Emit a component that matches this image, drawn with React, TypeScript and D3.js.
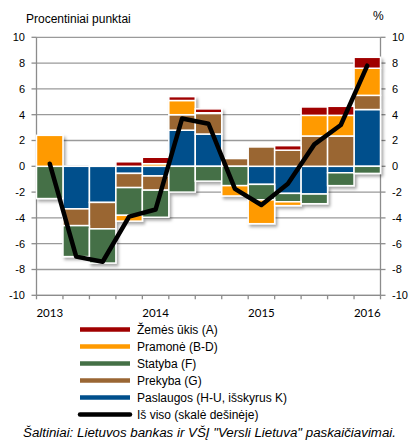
import React from "react";
import * as d3 from "d3";

const quarters = ["2013Q1","2013Q2","2013Q3","2013Q4","2014Q1","2014Q2","2014Q3","2014Q4","2015Q1","2015Q2","2015Q3","2015Q4","2016Q1"];
const xLabels = ["2013","","","","2014","","","","2015","","","","2016"];
const yTicks = [-10,-8,-6,-4,-2,0,2,4,6,8,10];

const paslaugos = [0, -3.3, -2.8, -0.55, -0.75, 2.8, 2.5, 0, -1.4, -2.1, -2.15, -0.5, 4.4];
const prekyba = [0, -1.3, -2.05, -1.1, -1.1, 1.2, 1.6, 0.6, 1.5, 1.25, 2.35, 2.35, 1.1];
const statyba = [-2.5, -2.4, -2.65, -2.15, -2.1, -2.0, -1.15, -1.5, -1.2, -0.65, -0.75, -1.0, -0.55];
const pramone = [2.4, 0, 0, -0.45, 0.2, 1.1, 0.05, -0.8, -1.85, -0.3, 1.6, 1.6, 2.1];
const zemes = [0, 0, 0.1, 0.35, 0.5, 0.3, 0.3, 0, 0, 0.35, 0.65, 0.7, 0.85];
const isViso = [0.2, -7.0, -7.4, -3.9, -3.35, 3.7, 3.3, -1.75, -3.0, -1.35, 1.7, 3.2, 7.8];

const seriesKeys = ["paslaugos", "prekyba", "statyba", "pramone", "zemes"];
const seriesColors: Record<string, string> = {
  paslaugos: "#004F8C",
  prekyba: "#9A6633",
  statyba: "#447046",
  pramone: "#FF9A00",
  zemes: "#A00000",
};

const legendItems = [
  { label: "Žemės ūkis (A)", color: "#A00000" },
  { label: "Pramonė (B-D)", color: "#FF9A00" },
  { label: "Statyba (F)", color: "#447046" },
  { label: "Prekyba (G)", color: "#9A6633" },
  { label: "Paslaugos (H-U, išskyrus K)", color: "#004F8C" },
  { label: "Iš viso (skalė dešinėje)", color: "#000000" },
];

export default function App() {
  const W = 409, H = 441;
  const left = 36.5, right = 380.5, top = 37.3, bottom = 295.3;
  const x = d3.scaleBand<string>().domain(quarters).range([left, right]).padding(0);
  const y = d3.scaleLinear().domain([-10, 10]).range([bottom, top]);

  const rows = quarters.map((q, i) => ({
    q,
    paslaugos: paslaugos[i],
    prekyba: prekyba[i],
    statyba: statyba[i],
    pramone: pramone[i],
    zemes: zemes[i],
  }));
  const stacked = d3.stack<any>().keys(seriesKeys).order(d3.stackOrderNone).offset(d3.stackOffsetDiverging)(rows);

  const line = d3.line<number>()
    .x((_, i) => (x(quarters[i]) as number) + x.bandwidth() / 2)
    .y((d) => y(d));

  const font = "'Liberation Sans', Arial, sans-serif";
  const gridColor = "#9a9a9a";
  const axisColor = "#8c8c8c";

  return (
    <svg width={W} height={H} style={{ position: "absolute", left: 0, top: 0, background: "#fff" }}>
      <defs>
        <filter id="shadow" x="-20%" y="-20%" width="140%" height="140%">
          <feDropShadow dx="2" dy="2.5" stdDeviation="1.8" floodColor="#000" floodOpacity="0.35" />
        </filter>
      </defs>
      {yTicks.map((t) => (
        <line key={"g" + t} x1={left} x2={right} y1={y(t)} y2={y(t)} stroke={gridColor} strokeWidth={1.3} />
      ))}
      <line x1={left} x2={left} y1={top} y2={bottom} stroke={axisColor} strokeWidth={1.3} />
      {yTicks.map((t) => (
        <g key={"l" + t}>
          <line x1={left - 5} x2={left} y1={y(t)} y2={y(t)} stroke={axisColor} strokeWidth={1.3} />
          <text x={25} y={y(t)} dy="0.35em" textAnchor="end" fontFamily={font} fontSize={11} fill="#000">{t}</text>
        </g>
      ))}
      <line x1={right} x2={right} y1={top} y2={bottom} stroke={axisColor} strokeWidth={1.3} />
      {yTicks.map((t) => (
        <g key={"r" + t}>
          <line x1={right} x2={right + 5} y1={y(t)} y2={y(t)} stroke={axisColor} strokeWidth={1.3} />
          <text x={392} y={y(t)} dy="0.35em" textAnchor="start" fontFamily={font} fontSize={11} fill="#000">{t}</text>
        </g>
      ))}
      <line x1={left} x2={right} y1={bottom} y2={bottom} stroke={axisColor} strokeWidth={1.3} />
      {quarters.concat(["end"]).map((q, i) => {
        const xx = i < quarters.length ? (x(q) as number) : right;
        return <line key={"t" + i} x1={xx} x2={xx} y1={bottom} y2={bottom + 4} stroke={axisColor} strokeWidth={1.3} />;
      })}
      {xLabels.map((lab, i) =>
        lab ? (
          <text key={"x" + i} x={(x(quarters[i]) as number) + x.bandwidth() / 2} y={317} textAnchor="middle" fontFamily="Lato, 'Open Sans', sans-serif" fontSize={11.5} fill="#000">{lab}</text>
        ) : null
      )}
      <g filter="url(#shadow)">
        {stacked.map((s) =>
          s.map((d, i) => {
            const v0 = d[0], v1 = d[1];
            if (Math.abs(v1 - v0) < 1e-9) return null;
            const y0 = y(Math.max(v0, v1));
            const y1 = y(Math.min(v0, v1));
            return (
              <rect key={s.key + i} x={x(quarters[i]) as number} y={y0} width={x.bandwidth()} height={y1 - y0}
                fill={seriesColors[s.key]} stroke="#fff" strokeWidth={1.5} />
            );
          })
        )}
      </g>
      <path d={line(isViso) || ""} fill="none" stroke="#000" strokeWidth={4.5} strokeLinejoin="round" strokeLinecap="round" />
      <text x={26} y={23} fontFamily={font} fontSize={12} fill="#000">Procentiniai punktai</text>
      <text x={373} y={20} fontFamily={font} fontSize={12} fill="#000">%</text>
      {legendItems.map((it, i) => {
        const ly = 329.5 + i * 17;
        return (
          <g key={"lg" + i}>
            <line x1={80} x2={130} y1={ly} y2={ly} stroke={it.color} strokeWidth={4.5} strokeLinecap={i === 5 ? "round" : "butt"} />
            <text x={137} y={ly} dy="0.36em" fontFamily={font} fontSize={12} fill="#000">{it.label}</text>
          </g>
        );
      })}
      <text x={23} y={437} fontFamily={font} fontSize={12} fontStyle="italic" fill="#000" textLength={373} lengthAdjust="spacingAndGlyphs">Šaltiniai: Lietuvos bankas ir VŠĮ "Versli Lietuva" paskaičiavimai.</text>
    </svg>
  );
}
